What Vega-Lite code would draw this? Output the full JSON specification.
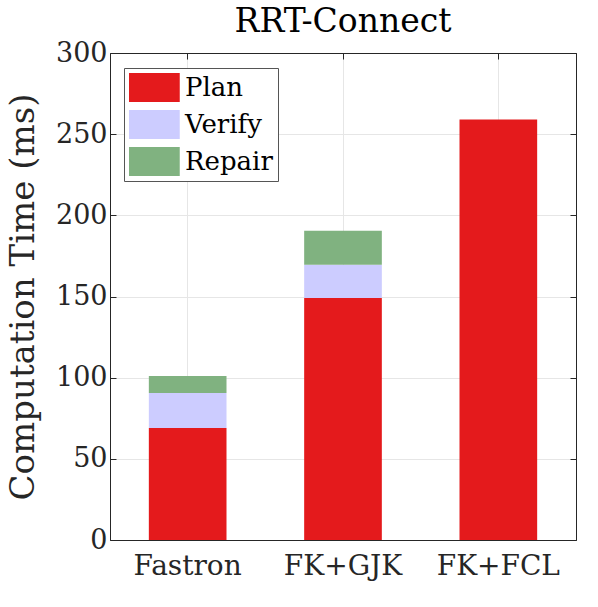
{
  "$schema": "https://vega.github.io/schema/vega-lite/v6.json",
  "autosize": "none",
  "width": 466,
  "height": 487,
  "padding": {"left": 110, "top": 53, "right": 22, "bottom": 67},
  "background": "white",
  "config": {
    "font": "DejaVu Serif",
    "view": {"stroke": "#262626", "strokeWidth": 1},
    "axis": {"labelColor": "#262626", "titleColor": "#262626", "domainColor": "#262626", "tickColor": "#262626", "gridColor": "#e6e6e6", "labelFont": "DejaVu Serif", "titleFont": "DejaVu Serif"}
  },
  "title": {"text": "RRT-Connect", "fontSize": 33, "font": "DejaVu Serif", "fontWeight": "normal", "color": "#000000", "offset": 0, "anchor": "middle"},
  "data": {"values": [
    {"method": "Fastron", "part": "Plan", "ord": 1, "time": 69},
    {"method": "Fastron", "part": "Verify", "ord": 2, "time": 21.5},
    {"method": "Fastron", "part": "Repair", "ord": 3, "time": 10.5},
    {"method": "FK+GJK", "part": "Plan", "ord": 1, "time": 149},
    {"method": "FK+GJK", "part": "Verify", "ord": 2, "time": 20.5},
    {"method": "FK+GJK", "part": "Repair", "ord": 3, "time": 21},
    {"method": "FK+FCL", "part": "Plan", "ord": 1, "time": 259},
    {"method": "FK+FCL", "part": "Verify", "ord": 2, "time": 0},
    {"method": "FK+FCL", "part": "Repair", "ord": 3, "time": 0}
  ]},
  "layer": [
    {
      "mark": {"type": "bar"},
      "encoding": {
        "x": {"field": "method", "type": "nominal", "sort": ["Fastron", "FK+GJK", "FK+FCL"],
              "scale": {"paddingInner": 0.5, "paddingOuter": 0.25},
              "axis": {"orient": "bottom", "title": null, "labelAngle": 0, "labelFontSize": 28, "labelPadding": 18, "tickSize": -6, "bandPosition": 0.5, "grid": true, "domain": true}},
        "y": {"field": "time", "type": "quantitative", "stack": "zero",
              "scale": {"domain": [0, 300], "nice": false},
              "axis": {"orient": "left", "title": "Computation Time (ms)", "titleFontSize": 34, "titleFontWeight": "normal", "titlePadding": 15, "labelFontSize": 27, "labelPadding": 9, "tickSize": -6, "values": [0, 50, 100, 150, 200, 250, 300], "grid": true}},
        "color": {"field": "part", "type": "nominal",
                  "scale": {"domain": ["Plan", "Verify", "Repair"], "range": ["#e41a1c", "#ccccff", "#80b280"]},
                  "legend": {"orient": "none", "legendX": 14, "legendY": 15, "title": null, "labelFontSize": 26, "labelFont": "DejaVu Serif", "labelColor": "#000000", "symbolType": "M-1,-1H2.5V1H-1Z", "symbolSize": 841, "symbolStrokeWidth": 0, "symbolOpacity": 1, "rowPadding": 8, "labelOffset": 27, "fillColor": "white", "strokeColor": "#555555", "padding": 5}},
        "order": {"field": "ord", "type": "quantitative"}
      }
    },
    {
      "mark": {"type": "bar", "opacity": 0},
      "encoding": {
        "x": {"field": "method", "type": "nominal", "sort": ["Fastron", "FK+GJK", "FK+FCL"],
              "axis": {"orient": "top", "title": null, "labels": false, "tickSize": -6, "bandPosition": 0.5, "grid": false, "domain": true}},
        "y": {"field": "time", "type": "quantitative", "stack": "zero",
              "axis": {"orient": "right", "title": null, "labels": false, "tickSize": -6, "values": [0, 50, 100, 150, 200, 250, 300], "grid": false, "domain": true}}
      }
    }
  ],
  "resolve": {"axis": {"x": "independent", "y": "independent"}}
}
